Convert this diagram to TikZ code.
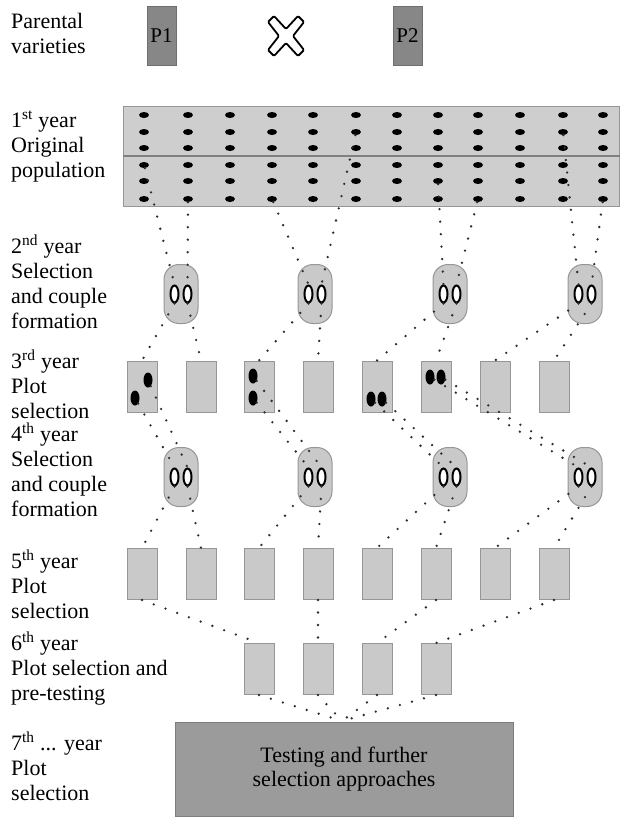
\documentclass[tikz,border=0pt]{standalone}
\usepackage{fontspec}
\setmainfont{Liberation Serif}
\usetikzlibrary{shapes.geometric}
\definecolor{plotfill}{RGB}{201,201,201}
\definecolor{plotdraw}{RGB}{150,150,150}
\definecolor{bandfill}{RGB}{206,206,206}
\definecolor{pfill}{RGB}{135,135,135}
\definecolor{pdraw}{RGB}{110,110,110}
\definecolor{boxfill}{RGB}{155,155,155}
\definecolor{boxdraw}{RGB}{125,125,125}
\definecolor{dotcol}{RGB}{45,45,45}
\begin{document}
\begin{tikzpicture}[x=1pt,y=-1pt,
  lab/.style={anchor=base west, align=left, inner sep=0pt, font=\fontsize{22}{25}\selectfont},
  parent/.style={draw=pdraw, fill=pfill, line width=1pt, minimum width=29pt, minimum height=59pt, inner sep=0pt, font=\fontsize{21}{24}\selectfont},
  plotbox/.style={draw=plotdraw, fill=plotfill, line width=1pt, minimum width=30pt, minimum height=51pt, inner sep=0pt},
  ovalbox/.style={draw=plotdraw, fill=plotfill, line width=1pt, rounded corners=15pt, minimum width=34pt, minimum height=59pt, inner sep=0pt},
  ring/.style={ellipse, draw=black, line width=2pt, fill=white, minimum width=8pt, minimum height=17pt, inner sep=0pt},
  seed/.style={ellipse, fill=black, minimum width=9pt, minimum height=15pt, inner sep=0pt},
  bdot/.style={ellipse, fill=black, minimum width=10pt, minimum height=6pt, inner sep=0pt},
  conn/.style={draw=dotcol, line width=2.6pt, line cap=round, dash pattern=on 0pt off 12.5pt},
  bigbox/.style={draw=boxdraw, fill=boxfill, line width=1pt, minimum width=338pt, minimum height=94pt, align=center, inner sep=0pt, font=\fontsize{22}{24.5}\selectfont}
]
\useasboundingbox (0,0) rectangle (619,817);

% left labels (anchored at the baseline of their last line)
\node[lab] (lab0) at (11,53) {Parental\\varieties};
\node[lab] (lab1) at (11,177) {1\textsuperscript{st} year\\Original\\population};
\node[lab] (lab2) at (11,328) {2\textsuperscript{nd} year\\Selection\\and couple\\formation};
\node[lab] (lab3) at (11,418) {3\textsuperscript{rd} year\\Plot\\selection};
\node[lab] (lab4) at (11,516) {4\textsuperscript{th} year\\Selection\\and couple\\formation};
\node[lab] (lab5) at (11,618) {5\textsuperscript{th} year\\Plot\\selection};
\node[lab] (lab6) at (11,700) {6\textsuperscript{th} year\\Plot selection and\\pre-testing};
\node[lab] (lab7) at (11,800) {7\textsuperscript{th} ... year\\Plot\\selection};

% parents and cross
\node[parent] (P1) at (161.5,35.5) {P1};
\node[parent] (P2) at (407.5,35.5) {P2};
\draw[line width=1.8pt, fill=white, rounded corners=1.2pt, shift={(286,36)}]
  (-18,-14) -- (-12,-20) -- (0,-7) -- (12,-20) -- (18,-14) -- (7,0) -- (18,14) -- (12,20)
  -- (0,7) -- (-12,20) -- (-18,14) -- (-7,0) -- cycle;

% original population band
\node[draw=plotdraw, fill=bandfill, line width=1pt, minimum width=496pt, minimum height=100pt, inner sep=0pt] (band) at (371,156) {};
\draw[draw=plotdraw!85!black, line width=1.5pt] (band.west) -- (band.east);
\foreach \c/\x in {1/144,2/188,3/230,4/272,5/313,6/356,7/397,8/438,9/478,10/520,11/563,12/603}
  \foreach \r/\y in {1/115,2/132,3/148,4/165,5/181,6/199}
    \node[bdot] (b\r-\c) at (\x,\y) {};

% selection ovals (2nd and 4th year)
\foreach \k/\x in {1/181,2/315,3/450,4/585} {
  \node[ovalbox] (o2-\k) at (\x,294) {};
  \node[ring] (r2-\k-l) at (\x-6.5,294) {};
  \node[ring] (r2-\k-r) at (\x+6.5,294) {};
  \node[ovalbox] (o4-\k) at (\x,477) {};
  \node[ring] (r4-\k-l) at (\x-6.5,477) {};
  \node[ring] (r4-\k-r) at (\x+6.5,477) {};
}

% plots
\foreach \k/\x in {1/142,2/201,3/259,4/318,5/377,6/436,7/495,8/554} {
  \node[plotbox] (p3-\k) at (\x,386.5) {};
  \node[plotbox] (p5-\k) at (\x,574) {};
}
\foreach \k/\x in {3/259,4/318,5/377,6/436}
  \node[plotbox] (p6-\k) at (\x,669) {};

% selected plants in 3rd-year plots
\node[seed] (sA) at (148,380) {};
\node[seed] (sB) at (135,398) {};
\node[seed] (sC) at (253,376) {};
\node[seed] (sD) at (253,398) {};
\node[seed] (sE) at (371,399) {};
\node[seed] (sF) at (382,399) {};
\node[seed] (sG) at (430,377) {};
\node[seed] (sH) at (441,377) {};

% final box
\node[bigbox] (box) at (344,769) {Testing and further\\selection approaches};
\coordinate (conv) at (342,721);

% connectors: band -> 2nd year
\draw[conn] (b4-1) -- (r2-1-l.north);
\draw[conn] (b6-2) -- (r2-1-r.north);
\draw[conn] (b6-4) -- (r2-2-l.north);
\draw[conn] (b2-6) -- (r2-2-r.north);
\draw[conn] (b5-8) -- (r2-3-l.north);
\draw[conn] (b6-9) -- (r2-3-r.north);
\draw[conn] (b2-11) -- (r2-4-l.north);
\draw[conn] (b6-12) -- (r2-4-r.north);

% 2nd year -> 3rd year plots, 4th year -> 5th year plots
\foreach \k [evaluate=\k as \a using int(2*\k-1), evaluate=\k as \b using int(2*\k)] in {1,2,3,4} {
  \draw[conn] (r2-\k-l.south) -- (p3-\a.north);
  \draw[conn] (r2-\k-r.south) -- (p3-\b.north);
  \draw[conn] (r4-\k-l.south) -- (p5-\a.north);
  \draw[conn] (r4-\k-r.south) -- (p5-\b.north);
}

% 3rd year selected plants -> 4th year couples
\draw[conn] (sA) -- (r4-1-r.north);
\draw[conn] (sB) -- (r4-1-l.north);
\draw[conn] (sC) -- (r4-2-r.north);
\draw[conn] (sD) -- (r4-2-l.north);
\draw[conn] (sE) -- (r4-3-l.north);
\draw[conn] (sF) -- (r4-3-r.north);
\draw[conn] (sG) -- (r4-4-l.north);
\draw[conn] (sH) -- (r4-4-r.north);

% 5th year -> 6th year
\draw[conn] (p5-1.south) -- (p6-3.north);
\draw[conn] (p5-4.south) -- (p6-4.north);
\draw[conn] (p5-6.south) -- (p6-5.north);
\draw[conn] (p5-8.south) -- (p6-6.north);

% 6th year -> testing
\foreach \k in {3,4,5,6}
  \draw[conn] (p6-\k.south) -- (conv);
\end{tikzpicture}
\end{document}
